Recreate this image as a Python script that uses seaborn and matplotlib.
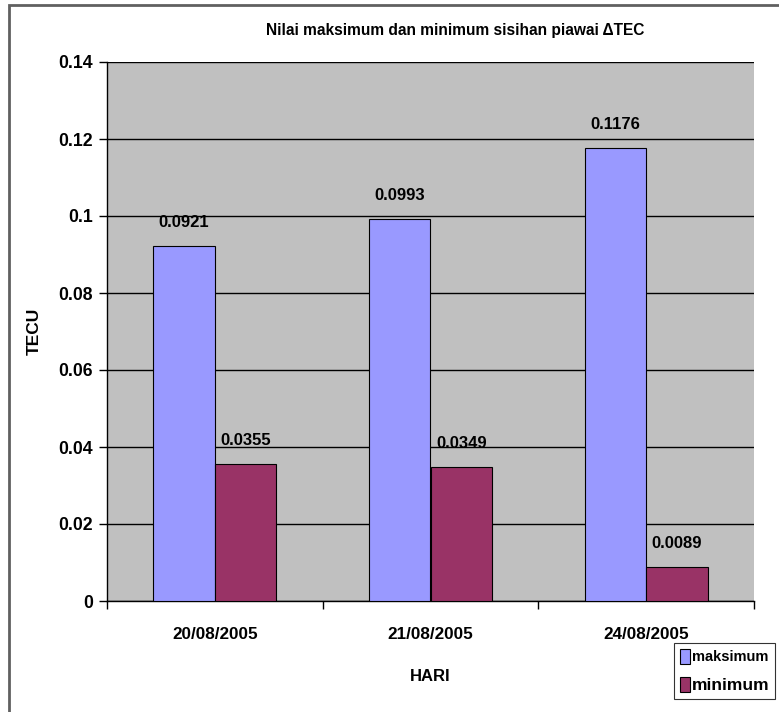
import matplotlib
matplotlib.use("Agg")
import matplotlib.pyplot as plt
from matplotlib.patches import Rectangle
import seaborn as sns
import pandas as pd

# Daily extremes of the standard deviation of delta-TEC
days = ["20/08/2005", "21/08/2005", "24/08/2005"]
maksimum = [0.0921, 0.0993, 0.1176]
minimum = [0.0355, 0.0349, 0.0089]
series = ["maksimum", "minimum"]
colors = ["#9999FF", "#993366"]
yticks = [0, 0.02, 0.04, 0.06, 0.08, 0.1, 0.12, 0.14]
ytick_labels = ["0", "0.02", "0.04", "0.06", "0.08", "0.1", "0.12", "0.14"]

df = pd.DataFrame({
    "HARI": days * 2,
    "TECU": maksimum + minimum,
    "seri": [series[0]] * 3 + [series[1]] * 3,
})

sns.set_theme(style="white")
FONT = ["Liberation Sans Narrow", "Liberation Sans", "DejaVu Sans"]
plt.rcParams["font.family"] = FONT
plt.rcParams["font.weight"] = "bold"
for key in ["text.color", "axes.labelcolor", "xtick.color", "ytick.color"]:
    plt.rcParams[key] = "black"

W, H = 779, 712
fig = plt.figure(figsize=(W / 100, H / 100), dpi=100)
fig.patch.set_facecolor("white")

# outer chart-area frame
fig.patches.append(Rectangle((9 / W, 0 - 0.05), 1.1, 1 - 5 / H + 0.05,
                             transform=fig.transFigure, fill=False,
                             edgecolor="#606060", linewidth=2, zorder=0))

left, right, top, bottom = 107, 754, 62, 601
ax = fig.add_axes([left / W, 1 - bottom / H, (right - left) / W, (bottom - top) / H])
ax.set_facecolor("#C0C0C0")

sns.barplot(data=df, x="HARI", y="TECU", hue="seri", order=days,
            hue_order=series, palette=colors, saturation=1, width=0.57,
            gap=0, edgecolor="black", linewidth=0.8, ax=ax, legend=False,
            zorder=3)

for cont in ax.containers:
    ax.bar_label(cont, labels=[f"{v:.4f}" for v in cont.datavalues],
                 padding=11.5, fontsize=12, fontweight="bold", family=FONT,
                 color="black")

ax.set_xlim(-0.5, 2.5)
ax.set_ylim(0, 0.14)
ax.set_yticks(yticks)
ax.set_yticklabels(ytick_labels)
ax.yaxis.grid(True, color="black", linewidth=1)
ax.xaxis.grid(False)
ax.set_axisbelow(True)

# category boundaries carry the tick marks, labels sit at the centres
ax.set_xticks([-0.5, 0.5, 1.5, 2.5])
ax.set_xticklabels([])
ax.set_xticks([0, 1, 2], minor=True)
ax.set_xticklabels(days, minor=True)
ax.tick_params(axis="x", which="major", direction="out", length=6, width=1,
               color="black", bottom=True)
ax.tick_params(axis="x", which="minor", length=0, pad=19, labelsize=12.3)
ax.tick_params(axis="y", direction="out", length=6, width=1, color="black",
               left=True, labelsize=12.7, pad=4)
for lab in ax.get_xticklabels(minor=True) + ax.get_yticklabels():
    lab.set_fontweight("bold")

for side in ["top", "right"]:
    ax.spines[side].set_visible(False)
for side in ["left", "bottom"]:
    ax.spines[side].set_color("black")
    ax.spines[side].set_linewidth(1)

ax.set_xlabel("HARI", fontsize=12, fontweight="bold", labelpad=19)
ax.set_ylabel("TECU", fontsize=12.5, fontweight="bold", labelpad=12)

fig.text(455 / W, 1 - 31 / H, "Nilai maksimum dan minimum sisihan piawai \u0394TEC",
         ha="center", va="center", fontsize=11.2, fontweight="bold")

handles = [Rectangle((0, 0), 1, 1, facecolor=c, edgecolor="black", linewidth=0.8)
           for c in colors]
leg = fig.legend(handles, series, loc="upper left",
                 bbox_to_anchor=(674 / W, 1 - 643 / H), frameon=True,
                 fancybox=False, handlelength=0.7, handleheight=1.2,
                 handletextpad=0.12, borderpad=0.4, labelspacing=0.9,
                 borderaxespad=0, prop={"weight": "bold", "size": 10.5})
leg.get_frame().set_edgecolor("black")
leg.get_frame().set_linewidth(0.8)
leg.get_texts()[1].set_fontsize(12.5)

fig.savefig("out.png", dpi=100)
